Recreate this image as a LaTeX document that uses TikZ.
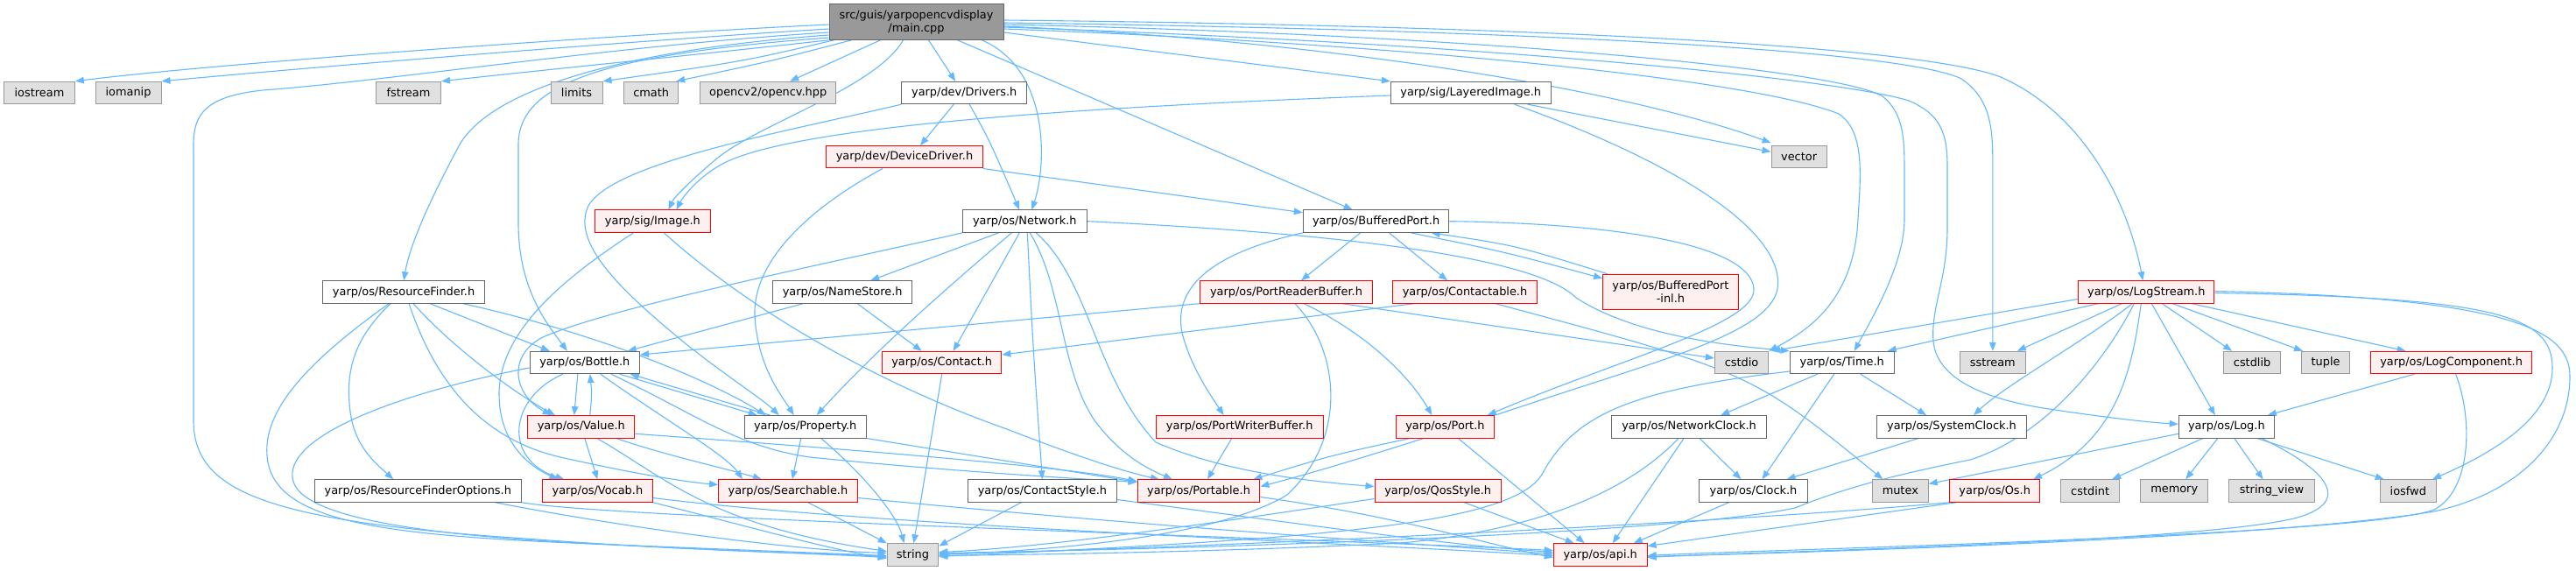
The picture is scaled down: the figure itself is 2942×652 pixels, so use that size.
\documentclass[tikz,border=0pt]{standalone}
\usepackage{fontspec}
\setmainfont{DejaVu Sans}
\usetikzlibrary{arrows.meta}
\pgfdeclarelayer{edges}
\pgfsetlayers{edges,main}
\definecolor{edgec}{HTML}{63B8FF}
\definecolor{bordg}{HTML}{666666}
\definecolor{bordx}{HTML}{999999}
\definecolor{fillx}{HTML}{E0E0E0}
\definecolor{fillr}{HTML}{FFF0F0}
\definecolor{fillm}{HTML}{999999}
\definecolor{bordr}{HTML}{FF0000}
\tikzset{
  nb/.style={rectangle, inner sep=0pt, minimum height=25.4pt, line width=1pt,
    font=\fontsize{12.9}{15}\selectfont, align=center, text=black},
  nrm/.style={nb, draw=bordg, fill=white},
  rn/.style={nb, draw=bordr, fill=fillr},
  ext/.style={nb, draw=bordx, fill=fillx},
  mainbox/.style={nb, draw=bordg, fill=fillm, minimum height=40.6pt},
  dep/.style={draw=edgec, line width=1.1pt, -{Triangle[length=10pt,width=7.5pt]}},
}
\begin{document}
\begin{tikzpicture}[x=1pt,y=-1pt]
\useasboundingbox (0,0) rectangle (2942,652);
% ---------- nodes ----------
\node[mainbox, minimum width=199pt] (main) at (1046.5,25) {src/guis/yarpopencvdisplay\\/main.cpp};
\node[ext, minimum width=80.7pt] (iostream) at (45,106) {iostream};
\node[ext, minimum width=75pt] (iomanip) at (146.5,106) {iomanip};
\node[ext, minimum width=74pt] (fstream) at (466.5,106) {fstream};
\node[ext, minimum width=59pt] (limits) at (658.5,106) {limits};
\node[ext, minimum width=62pt] (cmath) at (743.7,106) {cmath};
\node[ext, minimum width=155pt] (opencv) at (877.2,106) {opencv2/opencv.hpp};
\node[nrm, minimum width=143pt] (Drivers) at (1101.2,106) {yarp/dev/Drivers.h};
\node[nrm, minimum width=182.6pt] (LayeredImage) at (1679.7,106) {yarp/sig/LayeredImage.h};
\node[rn, minimum width=178.4pt] (DeviceDriver) at (1033,179.3) {yarp/dev/DeviceDriver.h};
\node[ext, minimum width=63.2pt] (vector) at (2054.6,179.3) {vector};
\node[rn, minimum width=131.6pt] (Image) at (745.4,252.7) {yarp/sig/Image.h};
\node[nrm, minimum width=141.6pt] (Network) at (1170.3,252.7) {yarp/os/Network.h};
\node[nrm, minimum width=166.6pt] (BufferedPort) at (1571.6,252.7) {yarp/os/BufferedPort.h};
\node[nrm, minimum width=185pt] (ResourceFinder) at (461.1,333.5) {yarp/os/ResourceFinder.h};
\node[nrm, minimum width=159.5pt] (NameStore) at (962.2,333.5) {yarp/os/NameStore.h};
\node[rn, minimum width=197.2pt] (PortReaderBuffer) at (1469,333.5) {yarp/os/PortReaderBuffer.h};
\node[rn, minimum width=164.7pt] (Contactable) at (1673,333.5) {yarp/os/Contactable.h};
\node[rn, minimum width=154.7pt, minimum height=40.4pt] (BufferedPortInl) at (1907.9,333.5) {yarp/os/BufferedPort\\-inl.h};
\node[rn, minimum width=155.2pt] (LogStream) at (2451.3,333.5) {yarp/os/LogStream.h};
\node[nrm, minimum width=125.5pt] (Bottle) at (667.8,414) {yarp/os/Bottle.h};
\node[rn, minimum width=136.4pt] (Contact) at (1075.7,414) {yarp/os/Contact.h};
\node[ext, minimum width=61.3pt] (cstdio) at (1989,414) {cstdio};
\node[nrm, minimum width=119pt] (Time) at (2103.7,414) {yarp/os/Time.h};
\node[ext, minimum width=75pt] (sstream) at (2275.8,414) {sstream};
\node[ext, minimum width=65.6pt] (cstdlib) at (2572.1,414) {cstdlib};
\node[ext, minimum width=55.2pt] (tuple) at (2656.1,414) {tuple};
\node[rn, minimum width=183.6pt] (LogComponent) at (2799.6,414) {yarp/os/LogComponent.h};
\node[rn, minimum width=122.3pt] (Value) at (663.8,487.3) {yarp/os/Value.h};
\node[nrm, minimum width=138.8pt] (Property) at (919.7,487.3) {yarp/os/Property.h};
\node[rn, minimum width=190.6pt] (PortWriterBuffer) at (1415.7,487.3) {yarp/os/PortWriterBuffer.h};
\node[rn, minimum width=111.8pt] (Port) at (1650.4,487.3) {yarp/os/Port.h};
\node[nrm, minimum width=177.4pt] (NetworkClock) at (1929.1,487.3) {yarp/os/NetworkClock.h};
\node[nrm, minimum width=170.4pt] (SystemClock) at (2229,487.3) {yarp/os/SystemClock.h};
\node[nrm, minimum width=109.1pt] (Log) at (2542.8,487.3) {yarp/os/Log.h};
\node[nrm, minimum width=235.5pt] (RFOptions) at (477.3,560.5) {yarp/os/ResourceFinderOptions.h};
\node[rn, minimum width=125.5pt] (Vocab) at (682.4,560.5) {yarp/os/Vocab.h};
\node[rn, minimum width=158.6pt] (Searchable) at (899.9,560.5) {yarp/os/Searchable.h};
\node[nrm, minimum width=169.4pt] (ContactStyle) at (1190.4,560.5) {yarp/os/ContactStyle.h};
\node[rn, minimum width=139.7pt] (Portable) at (1369,560.5) {yarp/os/Portable.h};
\node[rn, minimum width=144.4pt] (QosStyle) at (1642.2,560.5) {yarp/os/QosStyle.h};
\node[nrm, minimum width=123.1pt] (Clock) at (2002.5,560.5) {yarp/os/Clock.h};
\node[ext, minimum width=63.8pt] (mutex) at (2170.3,560.5) {mutex};
\node[rn, minimum width=102.7pt] (Os) at (2278.2,560.5) {yarp/os/Os.h};
\node[ext, minimum width=66.6pt] (cstdint) at (2387.1,560.5) {cstdint};
\node[ext, minimum width=77.3pt] (memory) at (2483.2,560.5) {memory};
\node[ext, minimum width=97.2pt] (stringview) at (2594.5,560.5) {string\_view};
\node[ext, minimum width=64.2pt] (iosfwd) at (2750.3,560.5) {iosfwd};
\node[ext, minimum width=58.5pt] (string) at (1042.5,633.5) {string};
\node[rn, minimum width=106.7pt] (api) at (1827.7,633.5) {yarp/os/api.h};
% ---------- edges ----------
\begin{pgfonlayer}{edges}
\fill[white] (0,0) rectangle (2942,652);
% main.cpp
\draw[dep] ([yshift=-3]main.west) .. controls (700,40) and (250,72) .. (iostream.north east);
\draw[dep] ([yshift=-8]main.west) .. controls (700,48) and (320,80) .. (iomanip.north east);
\draw[dep] ([yshift=-12]main.west) .. controls (700,52) and (450,92) .. (300,103) .. controls (235,110) and (221,130) .. (221,165) -- (221,480) .. controls (221,560) and (300,595) .. (600,615) .. controls (800,630) and (950,632) .. ([yshift=-2]string.west);
\draw[dep] ([yshift=-15]main.west) .. controls (700,58) and (560,105) .. (525,165) .. controls (490,230) and (468,280) .. (ResourceFinder.north);
\draw[dep] ([yshift=-18]main.west) .. controls (690,62) and (592,95) .. (592,165) -- (592,255) .. controls (592,330) and (625,370) .. ([xshift=-20]Bottle.north);
\draw[dep] (main.south west) .. controls (820,60) and (600,82) .. (fstream.north east);
\draw[dep] ([xshift=6]main.south west) .. controls (850,70) .. (limits.north east);
\draw[dep] ([xshift=26]main.south west) .. controls (880,70) .. ([xshift=-3]cmath.north east);
\draw[dep] ([xshift=59]main.south west) -- ([xshift=25]opencv.north);
\draw[dep] ([xshift=-15]main.south) .. controls (1000,100) and (870,140) .. (820,180) .. controls (790,205) and (770,225) .. ([xshift=18]Image.north);
\draw[dep] ([xshift=14]main.south) -- ([xshift=-10]Drivers.north);
\draw[dep] ([xshift=75]main.south) .. controls (1200,80) and (1195,190) .. ([xshift=8]Network.north);
\draw[dep] ([xshift=47]main.south) -- ([xshift=-27]BufferedPort.north);
\draw[dep] ([yshift=-12]main.east) -- (LayeredImage.north west);
\draw[dep] ([yshift=-5]main.east) .. controls (1500,45) and (1850,100) .. ([yshift=3]vector.north west);
\draw[dep] ([yshift=-8]main.east) .. controls (1600,50) and (2000,90) .. (2100,130) .. controls (2130,150) and (2125,200) .. (2122,250) .. controls (2118,330) and (2080,370) .. (cstdio.north east);
\draw[dep] ([yshift=-3]main.east) .. controls (1700,40) and (2100,80) .. (2150,110) .. controls (2175,130) and (2175,160) .. (2175,200) -- (2175,250) .. controls (2175,300) and (2140,360) .. ([xshift=14]Time.north);
\draw[dep] ([yshift=-6]main.east) .. controls (1700,50) and (2100,90) .. (2180,115) .. controls (2215,130) and (2224,150) .. (2224,190) -- (2224,260) .. controls (2224,320) and (2205,350) .. (2208,390) .. controls (2212,430) and (2260,455) .. (2340,467) .. controls (2400,476) and (2450,482) .. ([yshift=3]Log.west);
\draw[dep] ([yshift=-1]main.east) .. controls (1800,35) and (2180,60) .. (2240,90) .. controls (2270,110) and (2275.8,140) .. (2275.8,180) -- (sstream.north);
\draw[dep] ([yshift=2]main.east) .. controls (1800,30) and (2200,55) .. (2285,88) .. controls (2380,130) and (2430,230) .. ([xshift=-4]LogStream.north);
% Drivers
\draw[dep] ([xshift=-12]Drivers.south) -- ([xshift=18]DeviceDriver.north);
\draw[dep] ([xshift=6]Drivers.south) .. controls (1130,160) .. ([xshift=-6]Network.north);
\draw[dep] (Drivers.south west) .. controls (900,150) and (700,185) .. (672,235) .. controls (650,280) and (720,340) .. (780,390) .. controls (830,430) and (870,455) .. ([xshift=-30]Property.north);
% DeviceDriver
\draw[dep] ([xshift=-25]DeviceDriver.south) .. controls (920,240) and (860,300) .. (862,360) .. controls (865,420) and (895,455) .. ([xshift=-13]Property.north);
\draw[dep] (DeviceDriver.south east) -- ([yshift=10]BufferedPort.west);
% LayeredImage
\draw[dep] ([yshift=-3]LayeredImage.west) .. controls (1300,120) and (900,140) .. (820,190) .. controls (795,205) and (780,225) .. ([xshift=27]Image.north);
\draw[dep] ([xshift=65]LayeredImage.south) -- ([yshift=6]vector.west);
\draw[dep] ([xshift=50]LayeredImage.south) .. controls (1900,180) and (2040,260) .. (2030,330) .. controls (2020,380) and (1900,410) .. (1750,460) .. controls (1600,510) and (1500,540) .. ([yshift=5]Portable.east);
% Image
\draw[dep] ([xshift=-22]Image.south) .. controls (640,320) and (570,380) .. (570,450) .. controls (570,510) and (610,535) .. ([xshift=-45]Vocab.north);
\draw[dep] ([xshift=13]Image.south) .. controls (840,340) and (980,430) .. (1150,490) .. controls (1240,525) and (1290,540) .. ([xshift=-45]Portable.north);
% Network
\draw[dep] (Network.south west) .. controls (950,300) and (700,350) .. (620,385) .. controls (580,405) and (585,450) .. ([xshift=-34]Value.north);
\draw[dep] ([xshift=-30]Network.south) -- ([xshift=32]NameStore.north);
\draw[dep] ([xshift=-15]Network.south) .. controls (1080,330) and (1000,400) .. ([xshift=13]Property.north);
\draw[dep] ([xshift=-6]Network.south) -- ([xshift=13]Contact.north);
\draw[dep] ([xshift=3]Network.south) .. controls (1180,400) .. (ContactStyle.north);
\draw[dep] ([xshift=6]Network.south) .. controls (1215,330) and (1210,420) .. (1250,480) .. controls (1280,520) and (1310,535) .. ([xshift=-30]Portable.north);
\draw[dep] ([xshift=13]Network.south) .. controls (1245,320) and (1250,430) .. (1320,505) .. controls (1400,540) and (1500,550) .. ([yshift=5]QosStyle.west);
\draw[dep] (Network.east) .. controls (1500,265) and (1750,290) .. (1800,340) .. controls (1870,385) and (1980,395) .. (Time.north west);
% BufferedPort
\draw[dep] ([xshift=-18]BufferedPort.south) -- ([xshift=17]PortReaderBuffer.north);
\draw[dep] ([xshift=15]BufferedPort.south) -- ([xshift=-20]Contactable.north);
\draw[dep] ([xshift=40]BufferedPort.south) .. controls (1720,288) .. ([yshift=-5]BufferedPortInl.north west);
\draw[dep] ([xshift=6]BufferedPortInl.north west) .. controls (1730,280) .. ([xshift=63]BufferedPort.south);
\draw[dep] (BufferedPort.south west) .. controls (1380,290) and (1340,330) .. (1350,380) .. controls (1360,420) and (1385,455) .. ([xshift=-18]PortWriterBuffer.north);
\draw[dep] (BufferedPort.east) .. controls (1850,255) and (2000,280) .. (2003,330) .. controls (2006,370) and (1850,410) .. ([xshift=-8]Port.north east);
% PortReaderBuffer
\draw[dep] (PortReaderBuffer.south west) -- ([yshift=9]Bottle.east);
\draw[dep] ([xshift=10]PortReaderBuffer.south) .. controls (1530,400) and (1540,500) .. (1470,565) .. controls (1380,620) and (1150,630) .. (string.east);
\draw[dep] ([xshift=20]PortReaderBuffer.south) .. controls (1560,380) and (1610,430) .. ([xshift=-15]Port.north);
\draw[dep] ([xshift=-35]PortReaderBuffer.south east) -- ([yshift=5]cstdio.west);
% Contactable
\draw[dep] ([xshift=25]Contactable.south west) -- ([yshift=9]Contact.east);
\draw[dep] ([xshift=35]Contactable.south) .. controls (2000,425) .. ([xshift=-20]mutex.north);
% NameStore
\draw[dep] ([xshift=-45]NameStore.south) -- ([xshift=49]Bottle.north);
\draw[dep] ([xshift=17]NameStore.south) -- ([xshift=-23]Contact.north);
% ResourceFinder
\draw[dep] ([xshift=-17]ResourceFinder.south) .. controls (370,400) and (300,460) .. (305,520) .. controls (310,600) and (450,612) .. (700,622) .. controls (850,628) and (950,632) .. ([yshift=-1]string.west);
\draw[dep] ([xshift=-15]ResourceFinder.south) .. controls (400,390) and (395,430) .. (400,470) .. controls (405,510) and (430,530) .. ([xshift=-28]RFOptions.north);
\draw[dep] ([xshift=6]ResourceFinder.south) .. controls (495,430) and (545,500) .. (640,522) .. controls (720,540) and (780,550) .. ([yshift=7]Searchable.west);
\draw[dep] ([xshift=11]ResourceFinder.south) .. controls (520,400) and (590,450) .. ([xshift=-30]Value.north);
\draw[dep] ([xshift=30]ResourceFinder.south) -- ([xshift=-40]Bottle.north);
\draw[dep] ([xshift=-25]ResourceFinder.south east) .. controls (700,385) and (820,440) .. ([xshift=-45]Property.north);
% Bottle
\draw[dep] ([xshift=-8]Bottle.south) -- ([xshift=-8]Value.north);
\draw[dep] ([xshift=40]Bottle.south) -- ([xshift=-55]Property.north);
\draw[dep] ([yshift=-6]Bottle.west) .. controls (450,450) and (320,500) .. (335,550) .. controls (350,600) and (550,615) .. (700,622) .. controls (850,630) and (950,633) .. ([yshift=-3]string.west);
\draw[dep] ([xshift=-25]Bottle.south) .. controls (580,455) and (575,525) .. ([xshift=-38]Vocab.north);
\draw[dep] ([xshift=18]Bottle.south) .. controls (760,480) and (830,520) .. ([xshift=-52]Searchable.north);
\draw[dep] ([xshift=30]Bottle.south) .. controls (790,470) and (840,510) .. (925,522) .. controls (1050,535) and (1200,545) .. ([yshift=10]Portable.west);
% Value
\draw[dep] ([xshift=10]Value.north) .. controls (676,450) .. ([xshift=6]Bottle.south);
\draw[dep] ([xshift=4]Value.south) -- (Vocab.north);
\draw[dep] ([xshift=40]Value.south) .. controls (760,520) and (830,535) .. ([xshift=-30]Searchable.north);
\draw[dep] ([xshift=18]Value.south) .. controls (760,545) and (810,600) .. ([yshift=4]string.west);
\draw[dep] ([yshift=-8]Value.east) .. controls (900,508) and (1200,530) .. ([yshift=11]Portable.west);
% Property
\draw[dep] ([xshift=-40]Property.north) -- ([xshift=52]Bottle.south);
\draw[dep] ([xshift=-5]Property.south) -- ([xshift=5]Searchable.north);
\draw[dep] ([xshift=18]Property.south) .. controls (990,545) and (1025,590) .. ([xshift=-10]string.north);
\draw[dep] (Property.south east) -- ([yshift=10]Portable.west);
% Contact
\draw[dep] (Contact.south) -- ([xshift=1]string.north);
% PortWriterBuffer
\draw[dep] ([xshift=-9]PortWriterBuffer.south) -- ([xshift=10]Portable.north);
% Port
\draw[dep] ([xshift=-40]Port.south) .. controls (1520,520) .. ([xshift=-8]Portable.north east);
\draw[dep] ([xshift=15]Port.south) -- ([xshift=-18]api.north);
% QosStyle
\draw[dep] ([yshift=-9]QosStyle.west) .. controls (1400,595) and (1200,625) .. ([yshift=3]string.east);
\draw[dep] ([xshift=30]QosStyle.south) -- ([xshift=-30]api.north);
% ContactStyle
\draw[dep] ([xshift=-24]ContactStyle.south) -- ([yshift=10]string.east);
\draw[dep] ([yshift=-10]ContactStyle.east) .. controls (1500,600) and (1650,622) .. ([yshift=3]api.west);
% Searchable
\draw[dep] ([xshift=23]Searchable.south) -- (string.north west);
\draw[dep] ([yshift=-8]Searchable.east) .. controls (1300,600) and (1600,620) .. ([yshift=1]api.west);
% Vocab
\draw[dep] (Vocab.south east) .. controls (850,600) and (950,628) .. ([yshift=-4]string.west);
\draw[dep] ([yshift=-8]Vocab.east) .. controls (1000,600) and (1500,618) .. ([yshift=-1]api.west);
% RFOptions
\draw[dep] ([xshift=-30]RFOptions.south east) .. controls (700,600) and (900,628) .. ([yshift=2]string.west);
\draw[dep] (RFOptions.south east) .. controls (700,592) and (1500,615) .. ([yshift=5]api.west);
% Portable
\draw[dep] ([yshift=-7]Portable.east) .. controls (1600,590) and (1700,622) .. ([yshift=-3]api.west);
% Time
\draw[dep] ([xshift=-28]Time.south) -- ([xshift=36]NetworkClock.north);
\draw[dep] ([xshift=21]Time.south) -- ([xshift=-29]SystemClock.north);
\draw[dep] ([xshift=-9]Time.south) -- ([xshift=10]Clock.north);
\draw[dep] ([yshift=-10]Time.west) .. controls (1870,445) and (1800,470) .. (1762,540) .. controls (1730,600) and (1500,615) .. ([yshift=-2]string.east);
% NetworkClock
\draw[dep] ([xshift=12]NetworkClock.south) -- ([xshift=-14]Clock.north);
\draw[dep] ([xshift=-6]NetworkClock.south) -- ([xshift=14]api.north);
\draw[dep] ([xshift=-12]NetworkClock.south) .. controls (1860,560) and (1760,605) .. (1600,620) .. controls (1400,630) and (1200,633) .. ([yshift=-1]string.east);
% SystemClock, Clock
\draw[dep] ([xshift=-38]SystemClock.south) -- ([xshift=38]Clock.north);
\draw[dep] ([xshift=-28]Clock.south) -- ([xshift=38]api.north);
% Os
\draw[dep] (Os.south west) .. controls (2000,595) and (1400,625) .. ([yshift=1]string.east);
\draw[dep] ([xshift=8]Os.south west) -- ([yshift=10]api.east);
% Log
\draw[dep] ([yshift=-8]Log.west) -- ([yshift=8]mutex.east);
\draw[dep] ([xshift=-27]Log.south) -- ([xshift=25]cstdint.north);
\draw[dep] ([xshift=-10]Log.south) -- ([xshift=13]memory.north);
\draw[dep] ([xshift=9]Log.south) -- ([xshift=-10]stringview.north);
\draw[dep] ([xshift=35]Log.south) -- ([xshift=5]iosfwd.north west);
\draw[dep] ([xshift=40]Log.south) .. controls (2665,540) and (2685,575) .. (2620,592) .. controls (2500,620) and (2000,630) .. ([yshift=-3]api.east);
% LogComponent
\draw[dep] ([xshift=-42]LogComponent.south) -- ([xshift=-8]Log.north east);
\draw[dep] ([xshift=5]LogComponent.south) .. controls (2825,480) and (2822,560) .. (2780,582) .. controls (2700,612) and (2000,628) .. ([yshift=-1]api.east);
% LogStream
\draw[dep] ([yshift=-8]LogStream.west) -- ([xshift=3]cstdio.north east);
\draw[dep] ([xshift=-55]LogStream.south) -- ([xshift=-8]Time.north east);
\draw[dep] ([xshift=-28]LogStream.south) -- ([xshift=-10]sstream.north east);
\draw[dep] ([xshift=-16]LogStream.south) .. controls (2380,390) and (2290,440) .. ([xshift=25]SystemClock.north);
\draw[dep] ([xshift=-6]LogStream.south) .. controls (2435,420) and (2420,500) .. ([xshift=-8]Os.north east);
\draw[dep] ([xshift=-14]LogStream.south) .. controls (2400,420) and (2330,500) .. (2250,525) .. controls (2150,545) and (2100,560) .. (2050,580) .. controls (1900,612) and (1300,628) .. ([yshift=2]string.east);
\draw[dep] ([xshift=6]LogStream.south) -- ([xshift=-13]Log.north);
\draw[dep] ([xshift=18]LogStream.south) -- ([xshift=-23]cstdlib.north);
\draw[dep] ([xshift=30]LogStream.south) -- ([xshift=2]tuple.north west);
\draw[dep] ([xshift=52]LogStream.south) -- ([xshift=-52]LogComponent.north);
\draw[dep] ([yshift=-1]LogStream.east) .. controls (2850,340) and (2915,360) .. (2915,420) .. controls (2915,480) and (2840,520) .. ([xshift=-5]iosfwd.north east);
\draw[dep] ([yshift=1]LogStream.east) .. controls (2880,340) and (2935,380) .. (2935,430) .. controls (2935,500) and (2880,562) .. (2780,584) .. controls (2600,614) and (2100,630) .. ([yshift=-2]api.east);
\end{pgfonlayer}
\end{tikzpicture}
\end{document}
